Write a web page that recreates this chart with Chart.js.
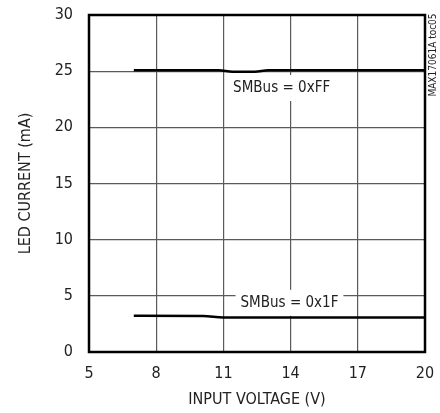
<!DOCTYPE html>
<html>
<head>
<meta charset="utf-8">
<script src="https://cdn.jsdelivr.net/npm/chart.js@4"></script>
<style>
  html, body { margin: 0; padding: 0; background: #fff; }
  #wrap { width: 440px; height: 413px; }
</style>
</head>
<body>
<div id="wrap"><canvas id="myChart" width="440" height="413"></canvas></div>
<script>
// values
const vinFF = [7, 10.8, 11.4, 12.4, 13, 20]
const ledFF = [25.08, 25.08, 24.95, 24.95, 25.08, 25.08]
const vin1F = [7, 10.1, 11, 20]
const led1F = [3.22, 3.21, 3.08, 3.07]
const xTicks = [5, 8, 11, 14, 17, 20]
const yTicks = [0, 5, 10, 15, 20, 25, 30]
const notes = [
    { text: 'SMBus = 0xFF', x: 13.6, y: 23.5 },
    { text: 'SMBus = 0x1F', x: 13.95, y: 4.38 }
]

const FONT = '"Liberation Sans Narrow", "DejaVu Sans Condensed", sans-serif'

const toPoints = (xs, ys) => xs.map((x, i) => ({ x: x, y: ys[i] }))

const framePlugin = {
    id: 'frame',
    afterDatasetsDraw(chart) {
        const { ctx, chartArea: a, scales } = chart
        ctx.save()
        // label boxes
        ctx.font = '15px ' + FONT
        ctx.textAlign = 'center'
        ctx.textBaseline = 'middle'
        notes.forEach(n => {
            const px = scales.x.getPixelForValue(n.x)
            const py = scales.y.getPixelForValue(n.y)
            const w = ctx.measureText(n.text).width
            ctx.fillStyle = '#fff'
            ctx.fillRect(px - w / 2 - 5, py - 13, w + 10, 26)
            ctx.fillStyle = '#222'
            ctx.fillText(n.text, px, py)
        })
        // border
        ctx.strokeStyle = '#000'
        ctx.lineWidth = 2.5
        ctx.strokeRect(a.left, a.top, a.right - a.left, a.bottom - a.top)
        // side tag
        ctx.translate(433, 55)
        ctx.rotate(-Math.PI / 2)
        ctx.font = '10px ' + FONT
        ctx.fillStyle = '#222'
        ctx.fillText('MAX17061A toc05', 0, 0)
        ctx.restore()
    }
}

const lineStyle = {
    borderColor: '#000',
    borderWidth: 2.5,
    pointRadius: 0,
    fill: false,
    cubicInterpolationMode: 'monotone'
}

const ctx = document.getElementById('myChart')
const myChart = new Chart(ctx, {
    type: 'scatter',
    data: {
        datasets: [
            { label: 'SMBus = 0xFF', data: toPoints(vinFF, ledFF), showLine: true, ...lineStyle },
            { label: 'SMBus = 0x1F', data: toPoints(vin1F, led1F), showLine: true, ...lineStyle }
        ]
    },
    options: {
        responsive: false,
        animation: false,
        layout: { padding: { left: 0, top: 15, right: 15, bottom: 0 } },
        plugins: { legend: { display: false }, tooltip: { enabled: false } },
        scales: {
            x: {
                type: 'linear',
                min: 5,
                max: 20,
                afterFit: s => {
                    s.height = 61
                    s.paddingLeft = 0
                    s.paddingRight = 0
                },
                afterBuildTicks: s => { s.ticks = xTicks.map(v => ({ value: v })) },
                grid: { color: '#5a5a5a', lineWidth: 1.2, drawTicks: false },
                border: { display: false },
                ticks: { color: '#222', padding: 12, font: { family: FONT, size: 16 } },
                title: {
                    display: true,
                    text: 'INPUT VOLTAGE (V)',
                    color: '#222',
                    padding: { top: 0, bottom: 4 },
                    font: { family: FONT, size: 16 }
                }
            },
            y: {
                min: 0,
                max: 30,
                afterFit: s => {
                    s.width = 89
                    s.paddingTop = 0
                    s.paddingBottom = 0
                },
                afterBuildTicks: s => { s.ticks = yTicks.map(v => ({ value: v })) },
                grid: { color: '#5a5a5a', lineWidth: 1.2, drawTicks: false },
                border: { display: false },
                ticks: { color: '#222', padding: 16, font: { family: FONT, size: 16 } },
                title: {
                    display: true,
                    text: 'LED CURRENT (mA)',
                    color: '#222',
                    padding: { top: 16, bottom: 0 },
                    font: { family: FONT, size: 16 }
                }
            }
        }
    },
    plugins: [framePlugin]
})
</script>
</body>
</html>
